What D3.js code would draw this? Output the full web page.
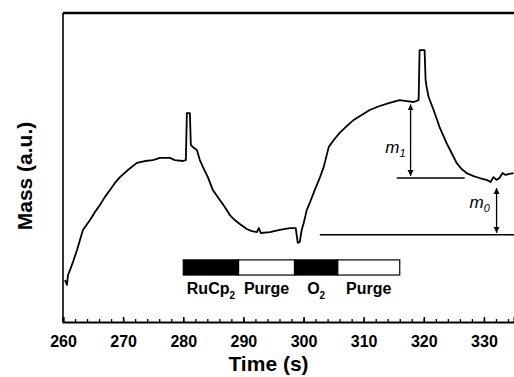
<!DOCTYPE html>
<html>
<meta charset="utf-8">
<script src="https://d3js.org/d3.v7.min.js"></script>
<style>
  body { margin: 0; background: #fff; }
  text { font-family: "Liberation Sans", Arial, sans-serif; fill: #000; }
</style>
<body>
<div id="vis"></div>
<script>
// mass trace: time (s) and mass (a.u., 0..100 across the frame)
const time = [260.33, 260.66, 260.83, 261.16, 261.66, 262.33, 262.82, 263.32, 264.49, 265.32,
  266.15, 266.98, 267.81, 268.64, 269.47, 270.80, 272.29, 273.62, 274.95, 276.11,
  277.77, 278.60, 279.93, 280.43, 280.60, 281.10, 281.26, 281.59, 282.26, 282.76,
  283.26, 284.09, 284.92, 286.08, 286.91, 287.74, 288.57, 289.40, 290.56, 291.40,
  292.23, 292.56, 292.89, 294.39, 296.05, 297.71, 298.70, 299.04, 299.37, 299.70,
  300.03, 300.53, 301.03, 301.86, 302.69, 303.36, 303.85, 304.19, 305.02, 306.01,
  307.18, 308.34, 309.67, 311.00, 312.66, 314.32, 315.98, 317.14, 318.31, 319.14,
  319.30, 320.13, 320.30, 320.47, 320.80, 321.63, 322.62, 323.79, 324.62, 325.45,
  326.28, 327.11, 328.27, 329.27, 330.43, 331.10, 331.59, 332.09, 332.59, 333.09,
  333.59, 334.25, 334.92];
const mass = [13.6, 12.0, 15.2, 16.8, 19.4, 23.3, 26.5, 29.8, 33.0, 35.6,
  37.9, 40.5, 42.7, 45.0, 46.9, 49.2, 51.5, 52.1, 52.4, 53.1,
  53.1, 52.4, 52.1, 52.4, 67.6, 67.6, 57.3, 56.6, 55.7, 52.4,
  50.2, 46.9, 42.7, 39.5, 37.2, 34.6, 33.0, 31.7, 30.1, 29.4,
  29.1, 30.4, 28.8, 29.1, 29.8, 30.4, 30.4, 25.6, 25.9, 29.8,
  32.0, 36.2, 38.5, 42.7, 46.6, 50.2, 54.0, 56.6, 58.9, 61.2,
  63.4, 65.4, 67.0, 68.6, 69.9, 70.9, 71.8, 71.5, 71.2, 71.8,
  88.0, 88.0, 78.3, 76.1, 72.8, 68.6, 63.1, 57.9, 54.7, 51.5,
  49.5, 48.2, 47.2, 46.6, 46.0, 45.3, 46.9, 46.0, 46.6, 48.2,
  47.6, 47.9, 48.2];

// pulse sequence bar
const stepNames = ["RuCp", "Purge", "O", "Purge"];
const stepSubs = ["2", "", "2", ""];
const stepStart = [280, 289.2, 298.5, 305.7];
const stepEnd = [289.2, 298.5, 305.7, 316.0];
const stepFill = ["#000", "#fff", "#000", "#fff"];

const xTicks = [260, 270, 280, 290, 300, 310, 320, 330];

// reference levels and mass-gain arrows
const refLines = [{t0: 315.5, t1: 326.8, v: 46.6}, {t0: 302.7, t1: 335, v: 28.2}];
const arrows = [{t: 317.8, v0: 70.4, v1: 46.6, label: "m", sub: "1", lt: 313.6, lv: 54.8},
                {t: 332.1, v0: 43.4, v1: 28.2, label: "m", sub: "0", lt: 327.6, lv: 36.8}];

const W = 514, H = 377;
const margin = {top: 13, right: 0, bottom: 55, left: 63};
const width = W - margin.left - margin.right,
      height = H - margin.top - margin.bottom;

const svg = d3.select("#vis").append("svg")
    .attr("width", W).attr("height", H)
  .append("g")
    .attr("transform", `translate(${margin.left},${margin.top})`);

const x = d3.scaleLinear().domain([260, 335]).range([0, width]);
const y = d3.scaleLinear().domain([0, 100]).range([height, 0]);

const defs = svg.append("defs");
defs.append("marker")
    .attr("id", "ah")
    .attr("viewBox", "0 0 10 10")
    .attr("refX", 10).attr("refY", 5)
    .attr("markerWidth", 6).attr("markerHeight", 7)
    .attr("markerUnits", "userSpaceOnUse")
    .attr("orient", "auto-start-reverse")
  .append("path")
    .attr("d", "M0,0 L10,5 L0,10 Z")
    .attr("fill", "#000");

// frame: left line, thick top line
svg.append("line").attr("x1", 0).attr("x2", 0).attr("y1", 0).attr("y2", height)
    .attr("stroke", "#000").attr("stroke-width", 1.6);
svg.append("line").attr("x1", 0).attr("x2", width).attr("y1", 0).attr("y2", 0)
    .attr("stroke", "#000").attr("stroke-width", 2.6);

// x axis, ticks pointing inside
const xAxis = svg.append("g").attr("transform", `translate(0,${height})`);
xAxis.call(d3.axisBottom(x).tickValues(d3.range(260, 336, 2)).tickSize(-3).tickFormat(""));
xAxis.call(g => g.select(".domain").remove());
xAxis.selectAll("line").attr("stroke-width", 1.3);
const xMajor = svg.append("g").attr("transform", `translate(0,${height})`)
    .call(d3.axisBottom(x).tickValues(xTicks).tickSize(-5).tickPadding(14));
xMajor.select(".domain").attr("stroke-width", 2);
xMajor.selectAll("line").attr("stroke-width", 1.5);
xMajor.selectAll("text")
    .style("font-size", "16px").style("font-weight", "bold")
    .attr("dy", "0.71em");

// axis titles
svg.append("text")
    .attr("x", width / 2 - 20).attr("y", height + 49)
    .attr("text-anchor", "middle")
    .style("font-size", "21px").style("font-weight", "bold")
    .text("Time (s)");
svg.append("text")
    .attr("transform", `translate(${32 - margin.left},${176 - margin.top}) rotate(-90)`)
    .attr("text-anchor", "middle")
    .style("font-size", "21px").style("font-weight", "bold")
    .text("Mass (a.u.)");

// mass trace
const line = d3.line().x(d => x(d[0])).y(d => y(d[1]));
svg.append("path")
    .datum(d3.zip(time, mass))
    .attr("d", line)
    .attr("fill", "none")
    .attr("stroke", "#000")
    .attr("stroke-width", 1.8)
    .attr("stroke-linejoin", "round");

// reference lines
svg.selectAll(".ref").data(refLines).join("line")
    .attr("x1", d => x(d.t0)).attr("x2", d => x(d.t1))
    .attr("y1", d => y(d.v)).attr("y2", d => y(d.v))
    .attr("stroke", "#000").attr("stroke-width", 1.5);

// double arrows
svg.selectAll(".arr").data(arrows).join("line")
    .attr("x1", d => x(d.t)).attr("x2", d => x(d.t))
    .attr("y1", d => y(d.v0)).attr("y2", d => y(d.v1) - 2)
    .attr("stroke", "#000").attr("stroke-width", 1.3)
    .attr("marker-start", "url(#ah)").attr("marker-end", "url(#ah)");
const lab = svg.selectAll(".lab").data(arrows).join("text")
    .attr("x", d => x(d.lt)).attr("y", d => y(d.lv))
    .style("font-size", "17px").style("font-style", "italic");
lab.append("tspan").text(d => d.label);
lab.append("tspan").attr("dy", 4).style("font-size", "11px").text(d => d.sub);

// step bar
const bar = d3.range(stepNames.length);
svg.selectAll(".step").data(bar).join("rect")
    .attr("x", i => x(stepStart[i])).attr("width", i => x(stepEnd[i]) - x(stepStart[i]))
    .attr("y", y(20.1)).attr("height", y(15.2) - y(20.1))
    .attr("fill", i => stepFill[i])
    .attr("stroke", "#000").attr("stroke-width", 1.2);
const st = svg.selectAll(".stl").data(bar).join("text")
    .attr("x", i => (x(stepStart[i]) + x(stepEnd[i])) / 2)
    .attr("y", y(9.1))
    .attr("text-anchor", "middle")
    .style("font-size", "16px").style("font-weight", "bold");
st.append("tspan").text(i => stepNames[i]);
st.append("tspan").attr("dy", 5).style("font-size", "10px").text(i => stepSubs[i]);
</script>
</body>
</html>
